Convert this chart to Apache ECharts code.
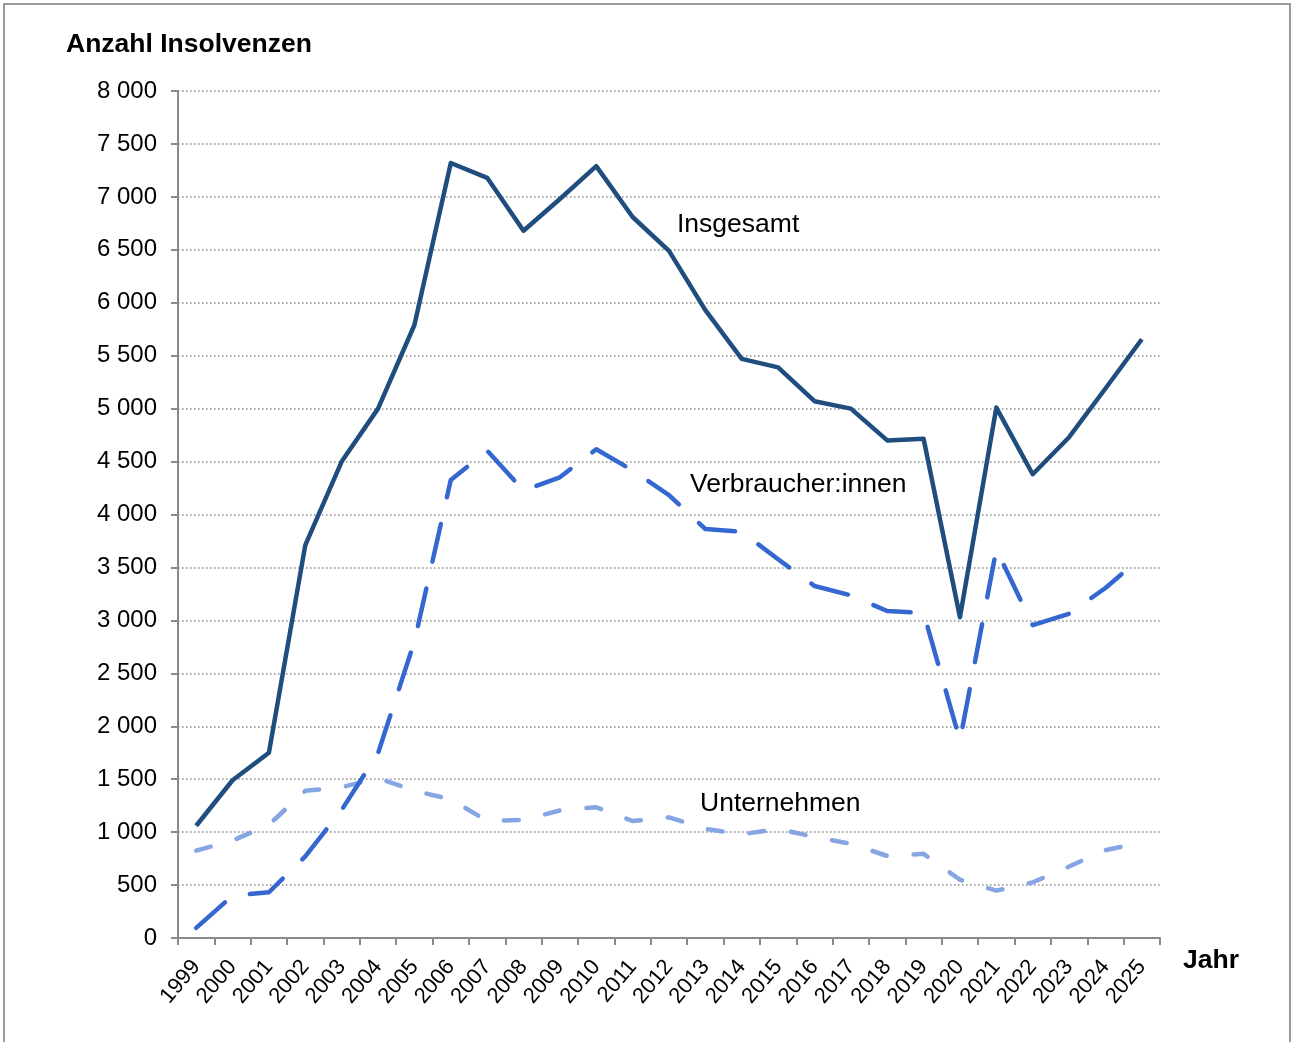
<!DOCTYPE html>
<html>
<head>
<meta charset="utf-8">
<script src="https://cdn.jsdelivr.net/npm/echarts@6/dist/echarts.min.js"></script>
<style>
html,body{margin:0;padding:0;background:#fff;}
#chart{width:1292px;height:1042px;}
</style>
</head>
<body>
<div id="chart"></div>
<script>
// ---- Data ----
const years = ['1999','2000','2001','2002','2003','2004','2005','2006','2007','2008','2009','2010','2011','2012','2013','2014','2015','2016','2017','2018','2019','2020','2021','2022','2023','2024','2025'];
const insgesamt = [1060, 1490, 1750, 3710, 4500, 5000, 5790, 7320, 7180, 6680, 6980, 7290, 6810, 6490, 5930, 5470, 5390, 5070, 5000, 4700, 4715, 3030, 5010, 4380, 4730, 5190, 5655];
const verbraucher = [95, 400, 432, 770, 1210, 1745, 2800, 4326, 4603, 4227, 4351, 4616, 4416, 4184, 3863, 3837, 3577, 3325, 3237, 3088, 3070, 1865, 3670, 2955, 3063, 3306, 3600];
const unternehmen = [825, 920, 1070, 1390, 1425, 1510, 1390, 1310, 1105, 1115, 1205, 1235, 1105, 1140, 1030, 980, 1030, 955, 890, 775, 795, 550, 447, 525, 675, 830, 900];
const seriesNames = ['Insgesamt', 'Verbraucher:innen', 'Unternehmen'];
const yMin = 0, yMax = 8000, yStep = 500;
const yTitle = 'Anzahl Insolvenzen';
const xTitle = 'Jahr';

const FONT = '"Liberation Sans", Arial, sans-serif';
const chart = echarts.init(document.getElementById('chart'), null, {renderer: 'canvas'});

function fmt(v) { return String(v).replace(/\B(?=(\d{3})+(?!\d))/g, ' '); }

const option = {
  animation: false,
  backgroundColor: '#ffffff',
  textStyle: { fontFamily: FONT },
  grid: { left: 178, right: 132, top: 91, bottom: 104, containLabel: false, outerBoundsMode: 'none' },
  xAxis: {
    type: 'category',
    data: years,
    boundaryGap: true,
    axisLine: { show: true, lineStyle: { color: '#8a8a8a', width: 2 } },
    axisTick: { show: true, alignWithLabel: false, length: 7, lineStyle: { color: '#8a8a8a', width: 2 } },
    axisLabel: { interval: 0, rotate: 50, fontSize: 22, color: '#000', fontFamily: FONT, margin: 25 },
    splitLine: { show: false }
  },
  yAxis: {
    type: 'value',
    min: yMin, max: yMax, interval: yStep,
    axisLine: { show: true, lineStyle: { color: '#8a8a8a', width: 2 } },
    axisTick: { show: true, length: 7, lineStyle: { color: '#8a8a8a', width: 2 } },
    axisLabel: { fontSize: 24, color: '#000', fontFamily: FONT, margin: 21, formatter: fmt },
    splitLine: { show: true, lineStyle: { color: '#8a8a8a', width: 1.5, type: [1.5, 2.5] } }
  },
  series: [
    {
      name: seriesNames[0], type: 'line', data: insgesamt, showSymbol: false, symbol: 'none',
      lineStyle: { color: '#1F4E7E', width: 4.5, join: 'round' }, z: 5
    },
    {
      name: seriesNames[1], type: 'line', data: verbraucher, showSymbol: false, symbol: 'none',
      lineStyle: { color: '#3467D0', width: 4.5, type: [38.5, 27.5], cap: 'round', join: 'round' }, z: 4
    },
    {
      name: seriesNames[2], type: 'line', data: unternehmen, showSymbol: false, symbol: 'none',
      lineStyle: { color: '#86A6E3', width: 4.5, type: [15, 27], cap: 'round', join: 'round' }, z: 3
    }
  ],
  graphic: [
    { type: 'rect', shape: { x: 4, y: 4, width: 1286, height: 1060 }, style: { fill: 'none', stroke: '#9a9a9a', lineWidth: 2 }, silent: true },
    { type: 'text', x: 66, y: 44.5, style: { text: yTitle, font: 'bold 26.5px ' + FONT, fill: '#000', textAlign: 'left', textVerticalAlign: 'middle' } },
    { type: 'text', x: 1183, y: 961, style: { text: xTitle, font: 'bold 26.5px ' + FONT, fill: '#000', textAlign: 'left', textVerticalAlign: 'middle' } },
    { type: 'text', x: 677, y: 224.5, style: { text: seriesNames[0], font: '26.5px ' + FONT, fill: '#000', textAlign: 'left', textVerticalAlign: 'middle' } },
    { type: 'text', x: 690, y: 484.5, style: { text: seriesNames[1], font: '26.5px ' + FONT, fill: '#000', textAlign: 'left', textVerticalAlign: 'middle' } },
    { type: 'text', x: 700, y: 803.5, style: { text: seriesNames[2], font: '26.5px ' + FONT, fill: '#000', textAlign: 'left', textVerticalAlign: 'middle' } }
  ]
};
chart.setOption(option);
</script>
</body>
</html>
